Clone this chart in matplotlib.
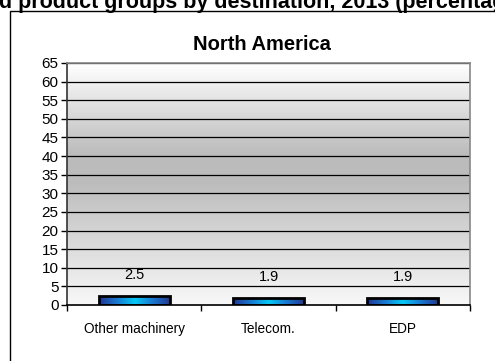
import numpy as np
import matplotlib
matplotlib.use("Agg")
import matplotlib.pyplot as plt
from matplotlib.patches import Rectangle
from matplotlib.colors import LinearSegmentedColormap

plt.rcParams['font.family'] = ['Liberation Sans', 'DejaVu Sans']

categories = ["Other machinery", "Telecom.", "EDP"]
values = [2.5, 1.9, 1.9]
yticks = list(range(0, 70, 5))

fig = plt.figure(figsize=(4.95, 3.61), dpi=100)
fig.patch.set_facecolor("white")

# outer chart frame (cut by the image edges)
fig.patches.append(Rectangle((9.5 / 495, -0.1), 1.2, 1 - 10.5 / 361 + 0.1,
                             transform=fig.transFigure, fill=False,
                             edgecolor="black", linewidth=1))

# clipped heading above the frame
fig.text(-13 / 495, 1 - 8 / 361, "ed product groups by destination, 2013 (percentage)",
         ha="left", va="baseline", fontsize=15.5, fontweight="bold")

ax = fig.add_axes([67 / 495, 56 / 361, 403 / 495, 242 / 361])

# plot area gradient: light at top and bottom, grey in the middle
bg = LinearSegmentedColormap.from_list(
    "bg", [(0, "#f8f8f8"), (0.5, "#bdbdbd"), (0.62, "#bbbbbb"), (1, "#ffffff")])
grad = np.linspace(0, 1, 256).reshape(-1, 1)
ax.imshow(grad, cmap=bg, aspect="auto", extent=(-0.5, 2.5, 0, 65),
          origin="lower", zorder=0)

for y in yticks[1:]:
    ax.axhline(y, color="black", linewidth=0.9, zorder=1)

# bars with horizontal blue-cyan-blue gradient
bar_cmap = LinearSegmentedColormap.from_list(
    "bar", ["#22358f", "#1a78d0", "#05c8f5", "#1a78d0", "#22358f"])
hgrad = np.linspace(0, 1, 256).reshape(1, -1)
width = 0.53
bars = ax.bar(range(len(categories)), values, width=width, facecolor="none",
              edgecolor="black", linewidth=2, zorder=3)
for b in bars:
    x0, h = b.get_x(), b.get_height()
    im = ax.imshow(hgrad, cmap=bar_cmap, aspect="auto",
                   extent=(x0, x0 + width, 0, h), zorder=2)
    im.set_clip_path(b)
ax.set_xlim(-0.5, 2.5)
ax.set_ylim(0, 65)

for i, v in enumerate(values):
    ax.text(i, v + 5.5, f"{v:.1f}", ha="center", va="center", fontsize=10.5)

ax.set_yticks(yticks)
ax.set_yticklabels([str(t) for t in yticks], fontsize=11)
ax.set_xticks(range(len(categories)))
ax.set_xticklabels(categories, fontsize=9.8)
ax.set_xticks([-0.5, 0.5, 1.5, 2.5], minor=True)
ax.tick_params(axis="x", which="major", length=0, pad=12)
ax.tick_params(axis="x", which="minor", length=4, width=1, direction="out")
ax.tick_params(axis="y", length=4, width=1, direction="out", pad=2)

ax.spines["left"].set_color("#333333")
ax.spines["bottom"].set_color("black")
ax.spines["top"].set_color("#888888")
ax.spines["right"].set_color("#888888")
for s in ax.spines.values():
    s.set_linewidth(1.2)

fig.text(262 / 495, 1 - 45 / 361, "North America", ha="center", va="center",
         fontsize=14.5, fontweight="bold")

fig.savefig("out.png", dpi=100)
